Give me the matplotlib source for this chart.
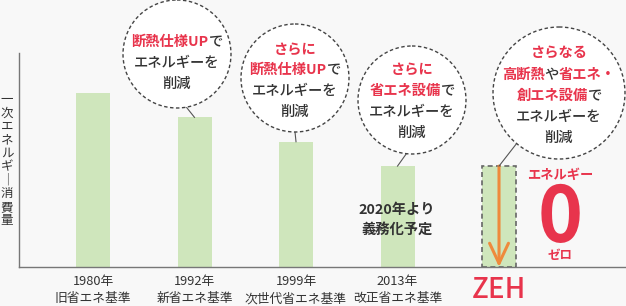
import numpy as np
import matplotlib
matplotlib.use('Agg')
import matplotlib.pyplot as plt
import matplotlib.transforms as mtransforms
from matplotlib.patches import Circle
from matplotlib.lines import Line2D

plt.rcParams['font.family'] = ['Noto Sans CJK JP', 'DejaVu Sans']

# ====================== ДАННЫЕ ======================
years = ['1980年', '1992年', '1999年', '2013年']
standards = ['旧省エネ基準', '新省エネ基準', '次世代省エネ基準', '改正省エネ基準']
energy = [100, 86, 72, 58]
zeh_label = 'ZEH'
zeh_ref = 58     # пунктирная рамка ZEH
zeh_value = 0    # энергия ZEH
ylabel = '一次エネルギー消費量'

RED = '#e8344c'
DARK = '#333333'
GREEN = '#cfe6bc'
BG = '#f8f8f8'
W, H = 626, 306

fig = plt.figure(figsize=(W / 100, H / 100), dpi=100, facecolor=BG)
ax = fig.add_axes([19 / W, 39 / H, 607 / W, 214 / H])
ax.set_facecolor(BG)

x = np.arange(len(energy))
bw = 0.335
ax.bar(x, energy, width=bw, color=GREEN, zorder=2)
ax.bar(len(energy), zeh_ref, width=bw, color=GREEN, edgecolor='#666666',
       linestyle=(0, (3, 2)), linewidth=1.2, zorder=2)
ax.annotate('', xy=(len(energy), zeh_value), xytext=(len(energy), zeh_ref),
            arrowprops=dict(arrowstyle='->,head_length=1.45,head_width=0.68',
                            color='#ef8a3c', lw=2.2, shrinkA=0, shrinkB=0),
            zorder=3)

ax.set_xlim(-0.729, 5.251)
ax.set_ylim(0, 123)
for s in ['top', 'right']:
    ax.spines[s].set_visible(False)
for s in ['left', 'bottom']:
    ax.spines[s].set_color('#777777')
    ax.spines[s].set_linewidth(1.0)
ax.set_yticks([])
ax.set_xticks(list(x) + [len(energy)])
ax.set_xticklabels([f'{y}\n{s}' for y, s in zip(years, standards)] + [zeh_label])
ax.tick_params(axis='x', length=0, pad=6)
for i, t in enumerate(ax.get_xticklabels()):
    if i < len(energy):
        t.set_fontsize(9.2)
        t.set_color(DARK)
        t.set_linespacing(1.4)
    else:
        t.set_fontsize(20)
        t.set_color(RED)
        t.set_fontweight('medium')

# пиксельные координаты (y сверху вниз)
pix = mtransforms.Affine2D().scale(1 / W, -1 / H).translate(0, 1) + fig.transFigure

# вертикальная подпись оси
vlabel = '\n'.join('｜' if c == 'ー' else c for c in ylabel)
fig.text(7, 160, vlabel, transform=pix, ha='center', va='center',
         fontsize=9, color=DARK, linespacing=1.05)

renderer = fig.canvas.get_renderer()


def rich_line(cx, cy, parts, size=10.3):
    texts = []
    for s, col in parts:
        t = fig.text(0, cy, s, transform=pix, ha='left', va='center', fontsize=size,
                     color=col, fontweight='bold' if col == RED else 'medium', zorder=6)
        texts.append(t)
    widths = [t.get_window_extent(renderer).width for t in texts]
    left = cx - sum(widths) / 2
    for t, w in zip(texts, widths):
        t.set_x(left)
        left += w


def bubble(cx, cy, r, angle, target, lines, ys):
    a = np.deg2rad(angle)
    sx, sy = cx + r * np.cos(a), cy + r * np.sin(a)
    tx, ty = ax.transData.transform(target)
    tx, ty = tx, H - ty
    fig.add_artist(Line2D([sx, tx], [sy, ty], transform=pix, color='#555555', lw=0.8, zorder=4))
    fig.add_artist(Circle((cx, cy), r, transform=pix, facecolor='white', edgecolor='#444444',
                          linestyle=(0, (2.5, 1.8)), lw=1.0, zorder=5))
    for parts, y in zip(lines, ys):
        rich_line(cx, y, parts)


bubble(177, 54, 54, 80, (1, energy[1]),
       [[('断熱仕様UP', RED), ('で', DARK)], [('エネルギーを', DARK)], [('削減', DARK)]],
       [42, 63, 84])
bubble(295, 78, 54, 90, (2, energy[2]),
       [[('さらに', RED)], [('断熱仕様UP', RED), ('で', DARK)], [('エネルギーを', DARK)],
        [('削減', DARK)]],
       [50, 70, 91, 112])
bubble(412, 100, 54, 96, (3, energy[3]),
       [[('さらに', RED)], [('省エネ設備', RED), ('で', DARK)], [('エネルギーを', DARK)],
        [('削減', DARK)]],
       [70, 91, 112, 133])
bubble(559, 93, 66, 130, (4, zeh_ref),
       [[('さらなる', RED)], [('高断熱', RED), ('や', DARK), ('省エネ・', RED)],
        [('創エネ設備', RED), ('で', DARK)], [('エネルギーを', DARK)], [('削減', DARK)]],
       [53, 75, 96, 117, 138])

fig.text(397, 220, '2020年より\n義務化予定', transform=pix, ha='center', va='center',
         fontsize=10.3, fontweight='bold', color=DARK, linespacing=1.5)
fig.text(560, 175, 'エネルギー', transform=pix, ha='center', va='center',
         fontsize=9.5, fontweight='bold', color=RED)
fig.text(560, 242, '0', transform=pix, ha='center', va='baseline',
         family=['Liberation Sans Narrow', 'Noto Sans CJK JP'],
         fontsize=55, fontweight='bold', color=RED)
fig.text(560, 255, 'ゼロ', transform=pix, ha='center', va='center',
         fontsize=9, fontweight='bold', color=RED)

fig.savefig('out.png', dpi=100, facecolor=BG)
